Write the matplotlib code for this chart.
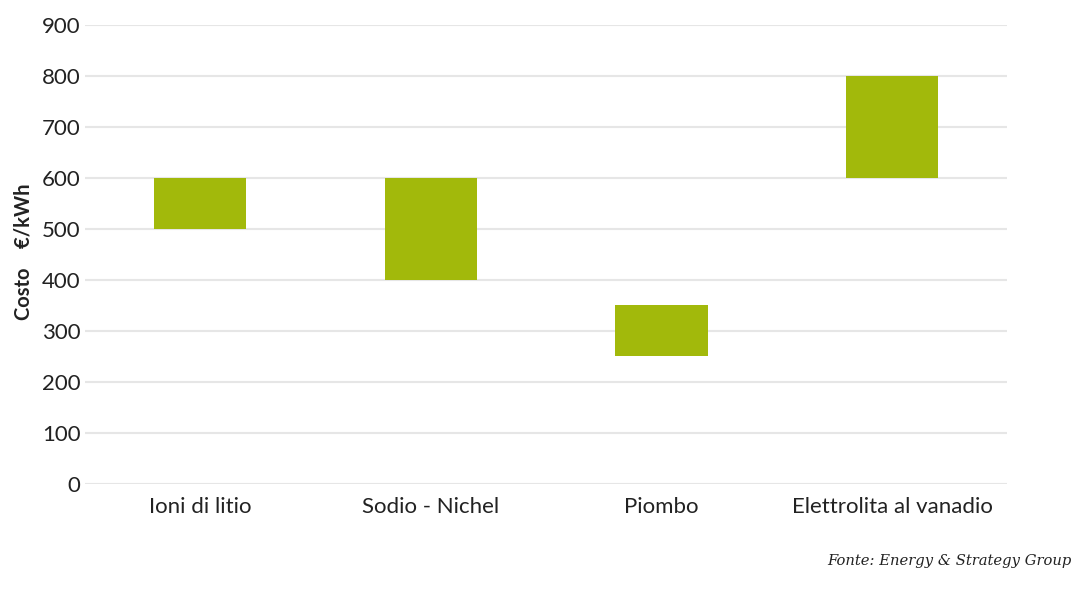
import matplotlib
matplotlib.use('Agg')
import matplotlib.pyplot as plt

categories = ['Ioni di litio', 'Sodio - Nichel', 'Piombo', 'Elettrolita al vanadio']
cost_min = [500, 400, 250, 600]
cost_max = [600, 600, 350, 800]
yticks = [0, 100, 200, 300, 400, 500, 600, 700, 800, 900]

plt.rcParams['font.family'] = ['Lato', 'DejaVu Sans']

fig = plt.figure(figsize=(10.74, 5.91), dpi=100)
ax = fig.add_axes([0.079, 0.181, 0.859, 0.777])

heights = [hi - lo for lo, hi in zip(cost_min, cost_max)]
ax.bar(range(len(categories)), heights, bottom=cost_min, width=0.4,
       color='#a2b90b', zorder=3)

ax.set_xlim(-0.5, len(categories) - 0.5)
ax.set_ylim(0, 900)
ax.set_yticks(yticks)
ax.set_xticks(range(len(categories)))
ax.set_xticklabels(categories)
ax.grid(axis='y', color='#e6e6e6', linewidth=1.5, zorder=0)
for s in ax.spines.values():
    s.set_visible(False)
ax.tick_params(axis='both', length=0, labelsize=16, colors='#222222')
ax.tick_params(axis='y', pad=3)
ax.tick_params(axis='x', pad=9)

ax.set_ylabel('Costo    €/kWh', fontsize=14.5, fontweight='bold', color='#222222')
ax.yaxis.set_label_coords(-0.056, 0.505)

fig.text(0.998, 0.05, 'Fonte: Energy & Strategy Group', ha='right', va='center',
         fontsize=10.6, style='italic', family='DejaVu Serif', color='#222222')

fig.savefig('out.png', dpi=100)
